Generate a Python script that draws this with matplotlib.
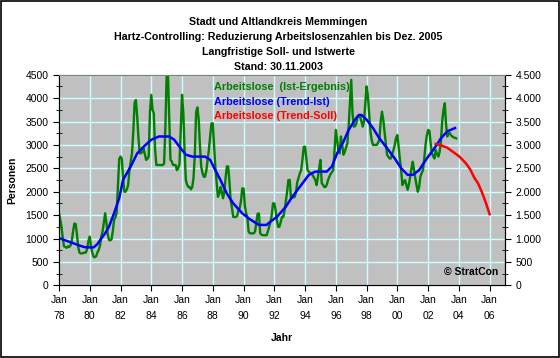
import matplotlib
matplotlib.use("Agg")
import matplotlib.pyplot as plt
import matplotlib.dates as mdates
from matplotlib.ticker import FuncFormatter, MultipleLocator
import pandas as pd

plt.rcParams['font.family'] = ['Liberation Sans', 'DejaVu Sans']

# Arbeitslose (Ist-Ergebnis), monthly from Jan 1978 to Nov 2003
ist_ergebnis = [
    1540, 1400, 1250, 1000, 830, 820, 800, 830, 820, 850, 950, 1150,      # 1978
    1320, 1310, 1100, 830, 700, 680, 680, 690, 700, 700, 780, 950,        # 1979
    1040, 820, 700, 610, 600, 620, 700, 755, 850, 1040, 1150, 1350,       # 1980
    1540, 1325, 1100, 970, 960, 980, 1150, 1400, 1450, 1540, 2110, 2700,  # 1981
    2750, 2700, 2320, 2000, 2000, 2050, 2140, 2460, 2650, 2820, 3300, 3900,  # 1982
    3960, 3600, 3180, 2820, 2820, 2850, 2930, 2800, 2680, 2700, 2750, 3700,  # 1983
    4070, 3750, 3680, 2900, 2570, 2570, 2570, 2570, 2570, 2570, 2600, 3390,  # 1984
    4500, 4500, 3600, 2680, 2650, 2570, 2570, 2570, 2460, 2500, 2600, 3300,  # 1985
    4070, 3680, 2900, 2250, 2150, 2100, 2100, 2050, 2100, 2300, 2800, 3700,  # 1986
    3800, 3540, 3000, 2540, 2400, 2320, 2320, 2450, 2680, 2900, 3200, 3460,  # 1987
    3460, 3000, 2540, 2200, 1890, 1950, 2100, 2000, 1860, 2000, 2300, 2540,  # 1988
    2540, 2200, 1820, 1650, 1460, 1460, 1460, 1480, 1600, 1650, 1800, 2070,  # 1989
    2070, 1700, 1550, 1460, 1150, 1110, 1110, 1110, 1110, 1150, 1350, 1530,  # 1990
    1535, 1110, 1080, 1070, 1070, 1070, 1070, 1150, 1250, 1350, 1500, 1750,  # 1991
    1750, 1600, 1400, 1250, 1250, 1350, 1460, 1460, 1600, 1800, 2000, 2250,  # 1992
    2250, 1860, 1870, 1880, 1890, 2000, 2210, 2300, 2400, 2460, 2700, 2960,  # 1993
    2960, 2700, 2460, 2430, 2400, 2390, 2350, 2300, 2250, 2140, 2300, 2500,  # 1994
    2680, 2180, 2150, 2100, 2100, 2150, 2250, 2320, 2380, 2420, 2460, 2900,  # 1995
    3320, 3100, 2900, 2820, 3180, 3000, 2790, 2850, 2950, 3030, 3400, 3890,  # 1996
    4390, 3680, 3390, 3400, 3450, 3610, 3610, 3600, 3500, 3390, 3500, 3890,  # 1997
    4250, 4040, 3680, 3300, 3110, 3000, 3000, 3000, 3000, 3050, 3110, 3500,  # 1998
    3710, 3540, 3300, 3040, 2790, 2750, 2710, 2710, 2800, 2890, 3000, 3150,  # 1999
    3210, 2960, 2700, 2460, 2140, 2200, 2250, 2150, 2040, 2150, 2320, 2500,  # 2000
    2640, 2460, 2300, 2140, 2000, 2100, 2320, 2400, 2460, 2700, 3000, 3200,  # 2001
    3320, 3300, 3050, 2820, 2760, 2710, 2890, 2800, 2750, 2850, 3070, 3500,  # 2002
    3750, 3890, 3460, 3180, 3250, 3250, 3200, 3180, 3160, 3150, 3140,        # 2003
]

# Arbeitslose (Trend-Ist)
trend_ist_dates = [
    "1978-01", "1978-05", "1978-09", "1979-01", "1979-05", "1979-09", "1980-01", "1980-04",
    "1980-07", "1980-10", "1981-01", "1981-04", "1981-08", "1981-12", "1982-03", "1982-09",
    "1983-02", "1983-07", "1984-01", "1984-07", "1985-03", "1985-07", "1985-11", "1986-04",
    "1986-09", "1987-07", "1987-11", "1988-03", "1988-07", "1988-12", "1989-05", "1989-12",
    "1990-05", "1991-01", "1991-07", "1991-10", "1992-03", "1992-10", "1993-03", "1993-11",
    "1994-04", "1994-09", "1995-06", "1995-10", "1996-02", "1996-07", "1996-11", "1997-04",
    "1997-07", "1997-09", "1998-01", "1998-06", "1998-11", "1999-05", "1999-11", "2000-04",
    "2000-09", "2001-01", "2001-06", "2001-12", "2002-06", "2002-11", "2003-04", "2003-10",
]
trend_ist = [
    1010, 970, 930, 890, 850, 815, 810, 810,
    880, 1000, 1110, 1250, 1540, 1860, 2250, 2540,
    2820, 2960, 3110, 3180, 3180, 3110, 2960, 2790,
    2750, 2750, 2680, 2460, 2250, 1960, 1750, 1540,
    1430, 1290, 1290, 1360, 1460, 1680, 1890, 2180,
    2360, 2430, 2430, 2540, 2820, 3070, 3320, 3540,
    3640, 3640, 3540, 3360, 3140, 2930, 2710, 2500,
    2360, 2360, 2460, 2710, 2930, 3140, 3290, 3360,
]

# Arbeitslose (Trend-Soll)
trend_soll_dates = [
    "2002-07", "2002-10", "2003-01", "2003-04", "2003-07", "2003-10", "2004-01", "2004-04",
    "2004-07", "2004-10", "2005-01", "2005-04", "2005-07", "2005-10", "2006-01",
]
trend_soll = [
    3020, 3000, 2970, 2940, 2880, 2820, 2760, 2680,
    2590, 2470, 2300, 2180, 1990, 1770, 1520,
]

titel = ["Stadt und Altlandkreis Memmingen",
         "Hartz-Controlling: Reduzierung Arbeitslosenzahlen bis Dez. 2005",
         "Langfristige Soll- und Istwerte",
         "Stand: 30.11.2003"]

ist_dates = pd.date_range("1978-01-01", periods=len(ist_ergebnis), freq="MS")

fig = plt.figure(figsize=(5.6, 3.58), dpi=100, facecolor="white")
ax = fig.add_axes([59 / 560, 1 - 285.3 / 358, 446 / 560, 210.6 / 358])
ax.set_facecolor("#C0C0C0")

ax.plot(ist_dates, ist_ergebnis, color="#008000", lw=1.7, label="Arbeitslose  (Ist-Ergebnis)", zorder=3)
ax.plot(pd.to_datetime(trend_ist_dates), trend_ist, color="#0000FF", lw=1.8, label="Arbeitslose (Trend-Ist)", zorder=4)
ax.plot(pd.to_datetime(trend_soll_dates), trend_soll, color="#FF0000", lw=1.8, label="Arbeitslose (Trend-Soll)", zorder=5)

ax.set_xlim(pd.Timestamp("1978-01-01"), pd.Timestamp("2007-01-01"))
ax.set_ylim(0, 4500)
ax.yaxis.set_major_locator(MultipleLocator(500))
ax.yaxis.set_minor_locator(MultipleLocator(250))
ax.xaxis.set_major_locator(mdates.YearLocator(2))
ax.xaxis.set_major_formatter(mdates.DateFormatter("%b\n%y"))
ax.grid(True, color="#CCFFFF", lw=1, zorder=1)
ax.set_axisbelow(True)

ax.tick_params(axis="both", which="major", direction="out", length=4, labelsize=7.5, color="black")
ax.tick_params(axis="y", which="minor", direction="inout", length=4)
ax.tick_params(axis="x", pad=3)
for lab in ax.get_xticklabels():
    lab.set_linespacing(1.7)

ax.spines["top"].set_color("#808080")
ax.spines["left"].set_color("black")
ax.spines["bottom"].set_color("black")
ax.spines["right"].set_color("black")

ax2 = ax.twinx()
ax2.set_ylim(0, 4500)
ax2.yaxis.set_major_locator(MultipleLocator(500))
ax2.yaxis.set_minor_locator(MultipleLocator(250))
ax2.yaxis.set_major_formatter(FuncFormatter(lambda v, p: f"{int(v):,}".replace(",", ".")))
ax2.tick_params(axis="y", which="major", direction="out", length=4, labelsize=7.5)
ax2.tick_params(axis="y", which="minor", direction="inout", length=4)
ax2.spines["top"].set_color("#808080")

ax.set_ylabel("Personen", fontsize=7.5, fontweight="bold", labelpad=6)
ax.set_xlabel("Jahr", fontsize=7.5, fontweight="bold", labelpad=9)

leg = ax.legend(loc="upper left", bbox_to_anchor=(0.335, 0.99), frameon=False,
                handlelength=0, handletextpad=0, borderpad=0, labelspacing=0.4,
                prop={"size": 7.8, "weight": "bold"}, labelcolor="linecolor")
for h in leg.legend_handles:
    h.set_visible(False)

ax.text(0.985, 0.04, "© StratCon", transform=ax.transAxes, ha="right", va="bottom",
        fontsize=7.5, fontweight="bold")

for i, t in enumerate(titel):
    fig.text(0.497, 1 - (21.7 + 15 * i) / 358, t, ha="center", va="center",
             fontsize=7.7, fontweight="bold")

fig.patches.append(plt.Rectangle((0.001, 0.002), 0.997, 0.996, transform=fig.transFigure,
                                 fill=False, edgecolor="black", lw=1.2))

fig.savefig("out.png", dpi=100, facecolor="white")
